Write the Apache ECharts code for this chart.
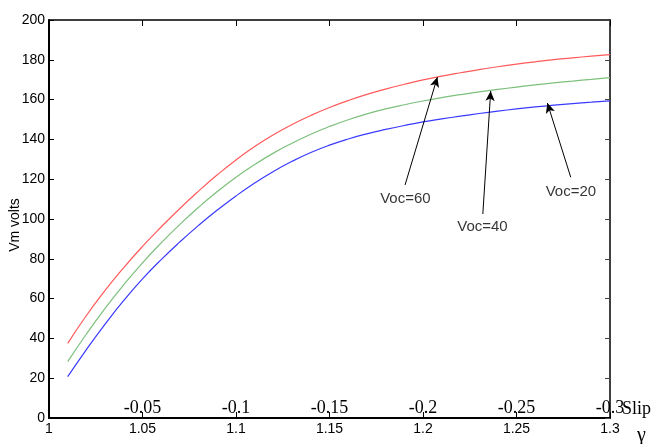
<!DOCTYPE html>
<html>
<head>
<meta charset="utf-8">
<script src="https://cdn.jsdelivr.net/npm/echarts@6/dist/echarts.min.js"></script>
<style>
html,body{margin:0;padding:0;background:#fff;}
#chart{width:660px;height:444px;}
</style>
</head>
<body>
<div id="chart"></div>
<script>
// gamma (x) values
var gammaValues = [1.01,1.02,1.03,1.04,1.05,1.06,1.07,1.08,1.09,1.10,
                   1.11,1.12,1.13,1.14,1.15,1.16,1.17,1.18,1.19,1.20,
                   1.21,1.22,1.23,1.24,1.25,1.26,1.27,1.28,1.29,1.30];
// Vm (volts) for Voc = 20, 40, 60
var vmVoc20 = [20.8,34.4,47.2,59.1,69.9,79.6,88.5,96.8,104.5,111.6,
               118.1,123.9,129,133.4,137.1,140.2,142.8,145,147,148.8,
               150.3,151.7,153,154.2,155.3,156.3,157.2,158,158.7,159.4];
var vmVoc40 = [28.3,42.2,55.1,67,78,88,97.3,105.9,113.8,121,
               127.4,133.1,138.1,142.6,146.5,149.9,152.8,155.3,157.4,159.3,
               161,162.5,163.9,165.1,166.3,167.4,168.4,169.3,170.2,171];
var vmVoc60 = [37.5,51.5,64.1,75.6,86.2,96,105.3,114,122.2,129.7,
               136.4,142.3,147.5,152,156,159.5,162.6,165.3,167.7,169.9,
               171.8,173.5,175.1,176.5,177.8,179,180.1,181,181.8,182.6];
var seriesNames = ['Voc=20','Voc=40','Voc=60'];
// secondary (slip) tick labels, aligned with gamma ticks 1.05 ... 1.3
var gammaTicks = [1.05,1.1,1.15,1.2,1.25,1.3];
var slipLabels = ['-0.05','-0.1','-0.15','-0.2','-0.25','-0.3'];
// annotation texts and arrows
var annotTexts = ['Voc=60','Voc=40','Voc=20'];
var annotTextPos = [[1.1906,110.3],[1.2318,96],[1.2791,113.8]];
var annotArrows = [[1.1904,117.1,1.2077,171.3],[1.2320,102.5,1.2362,164.3],[1.2790,121,1.2665,158.3]];

function pairs(ys){ return gammaValues.map(function(x,i){return [x, ys[i]];}); }

var sans = '"Liberation Sans",Arial,sans-serif';
var serif = '"Liberation Serif","Times New Roman",serif';

var chart = echarts.init(document.getElementById('chart'), null, {renderer:'canvas'});
var option = {
  animation: false,
  backgroundColor: '#fff',
  grid: {left: 49, right: 50, top: 20, bottom: 26, containLabel: false, outerBoundsMode: 'none'},
  xAxis: [
    { type:'value', min:1, max:1.3, interval:0.05, position:'bottom',
      axisLine:{show:true, onZero:false, lineStyle:{color:'#000', width:2}},
      axisTick:{show:true, inside:true, length:6, lineStyle:{color:'#000', width:1}},
      axisLabel:{color:'#000', fontFamily:sans, fontSize:14, margin:4},
      splitLine:{show:false} },
    { type:'value', min:1, max:1.3, interval:0.05, position:'bottom',
      axisLine:{show:false}, axisTick:{show:false}, splitLine:{show:false},
      axisLabel:{show:true, inside:true, margin:1, color:'#000', fontFamily:serif, fontSize:18,
        showMinLabel:false,
        formatter:function(v){
          for (var i=0;i<gammaTicks.length;i++){ if (Math.abs(v-gammaTicks[i])<1e-6) return slipLabels[i]; }
          return '';
        }} },
    { type:'value', min:1, max:1.3, interval:0.05, position:'top',
      axisLine:{show:true, onZero:false, lineStyle:{color:'#000', width:1.5}},
      axisTick:{show:true, inside:true, length:6, lineStyle:{color:'#000', width:1}},
      axisLabel:{show:false}, splitLine:{show:false} }
  ],
  yAxis: [
    { type:'value', min:0, max:200, interval:20, position:'left',
      axisLine:{show:true, onZero:false, lineStyle:{color:'#000', width:2}},
      axisTick:{show:true, inside:true, length:5, lineStyle:{color:'#000', width:1}},
      axisLabel:{color:'#000', fontFamily:sans, fontSize:14, margin:4},
      splitLine:{show:false} },
    { type:'value', min:0, max:200, interval:20, position:'right',
      axisLine:{show:true, onZero:false, lineStyle:{color:'#000', width:1.5}},
      axisTick:{show:true, inside:true, length:5, lineStyle:{color:'#444', width:1}},
      axisLabel:{show:false}, splitLine:{show:false} }
  ],
  series: [
    { name:seriesNames[0], type:'line', data:pairs(vmVoc20), showSymbol:false, smooth:true,
      lineStyle:{color:'#3a3aff', width:1.2}, itemStyle:{color:'#3a3aff'}, silent:true },
    { name:seriesNames[1], type:'line', data:pairs(vmVoc40), showSymbol:false, smooth:true,
      lineStyle:{color:'#7cc07c', width:1.2}, itemStyle:{color:'#7cc07c'}, silent:true },
    { name:seriesNames[2], type:'line', data:pairs(vmVoc60), showSymbol:false, smooth:true,
      lineStyle:{color:'#ff5a5a', width:1.2}, itemStyle:{color:'#ff5a5a'}, silent:true,
      markLine:{ silent:true, symbol:['none','arrow'], symbolSize:[7,10], animation:false,
        lineStyle:{color:'#000', width:1, type:'solid'}, label:{show:false},
        emphasis:{disabled:true},
        data: annotArrows.map(function(a){ return [{coord:[a[0],a[1]]},{coord:[a[2],a[3]]}]; }) } },
    { name:'labels', type:'scatter', silent:true, symbolSize:1,
      itemStyle:{color:'rgba(0,0,0,0)'},
      data: annotTexts.map(function(t,i){ return [annotTextPos[i][0], annotTextPos[i][1], t]; }),
      label:{show:true, position:'inside', color:'#000', fontFamily:sans, fontSize:15,
        formatter:function(p){ return p.data[2]; }} }
  ],
  graphic: [
    { type:'text', x:15, y:225, rotation:Math.PI/2,
      style:{text:'Vm volts', fill:'#000', font:'14px ' + sans, align:'center', verticalAlign:'middle'} },
    { type:'text', left:622, top:400, style:{text:'Slip', fill:'#000', font:'18px ' + serif} },
    { type:'text', left:637, top:426, style:{text:'γ', fill:'#000', font:'20px ' + serif} }
  ]
};
chart.setOption(option);
</script>
</body>
</html>
